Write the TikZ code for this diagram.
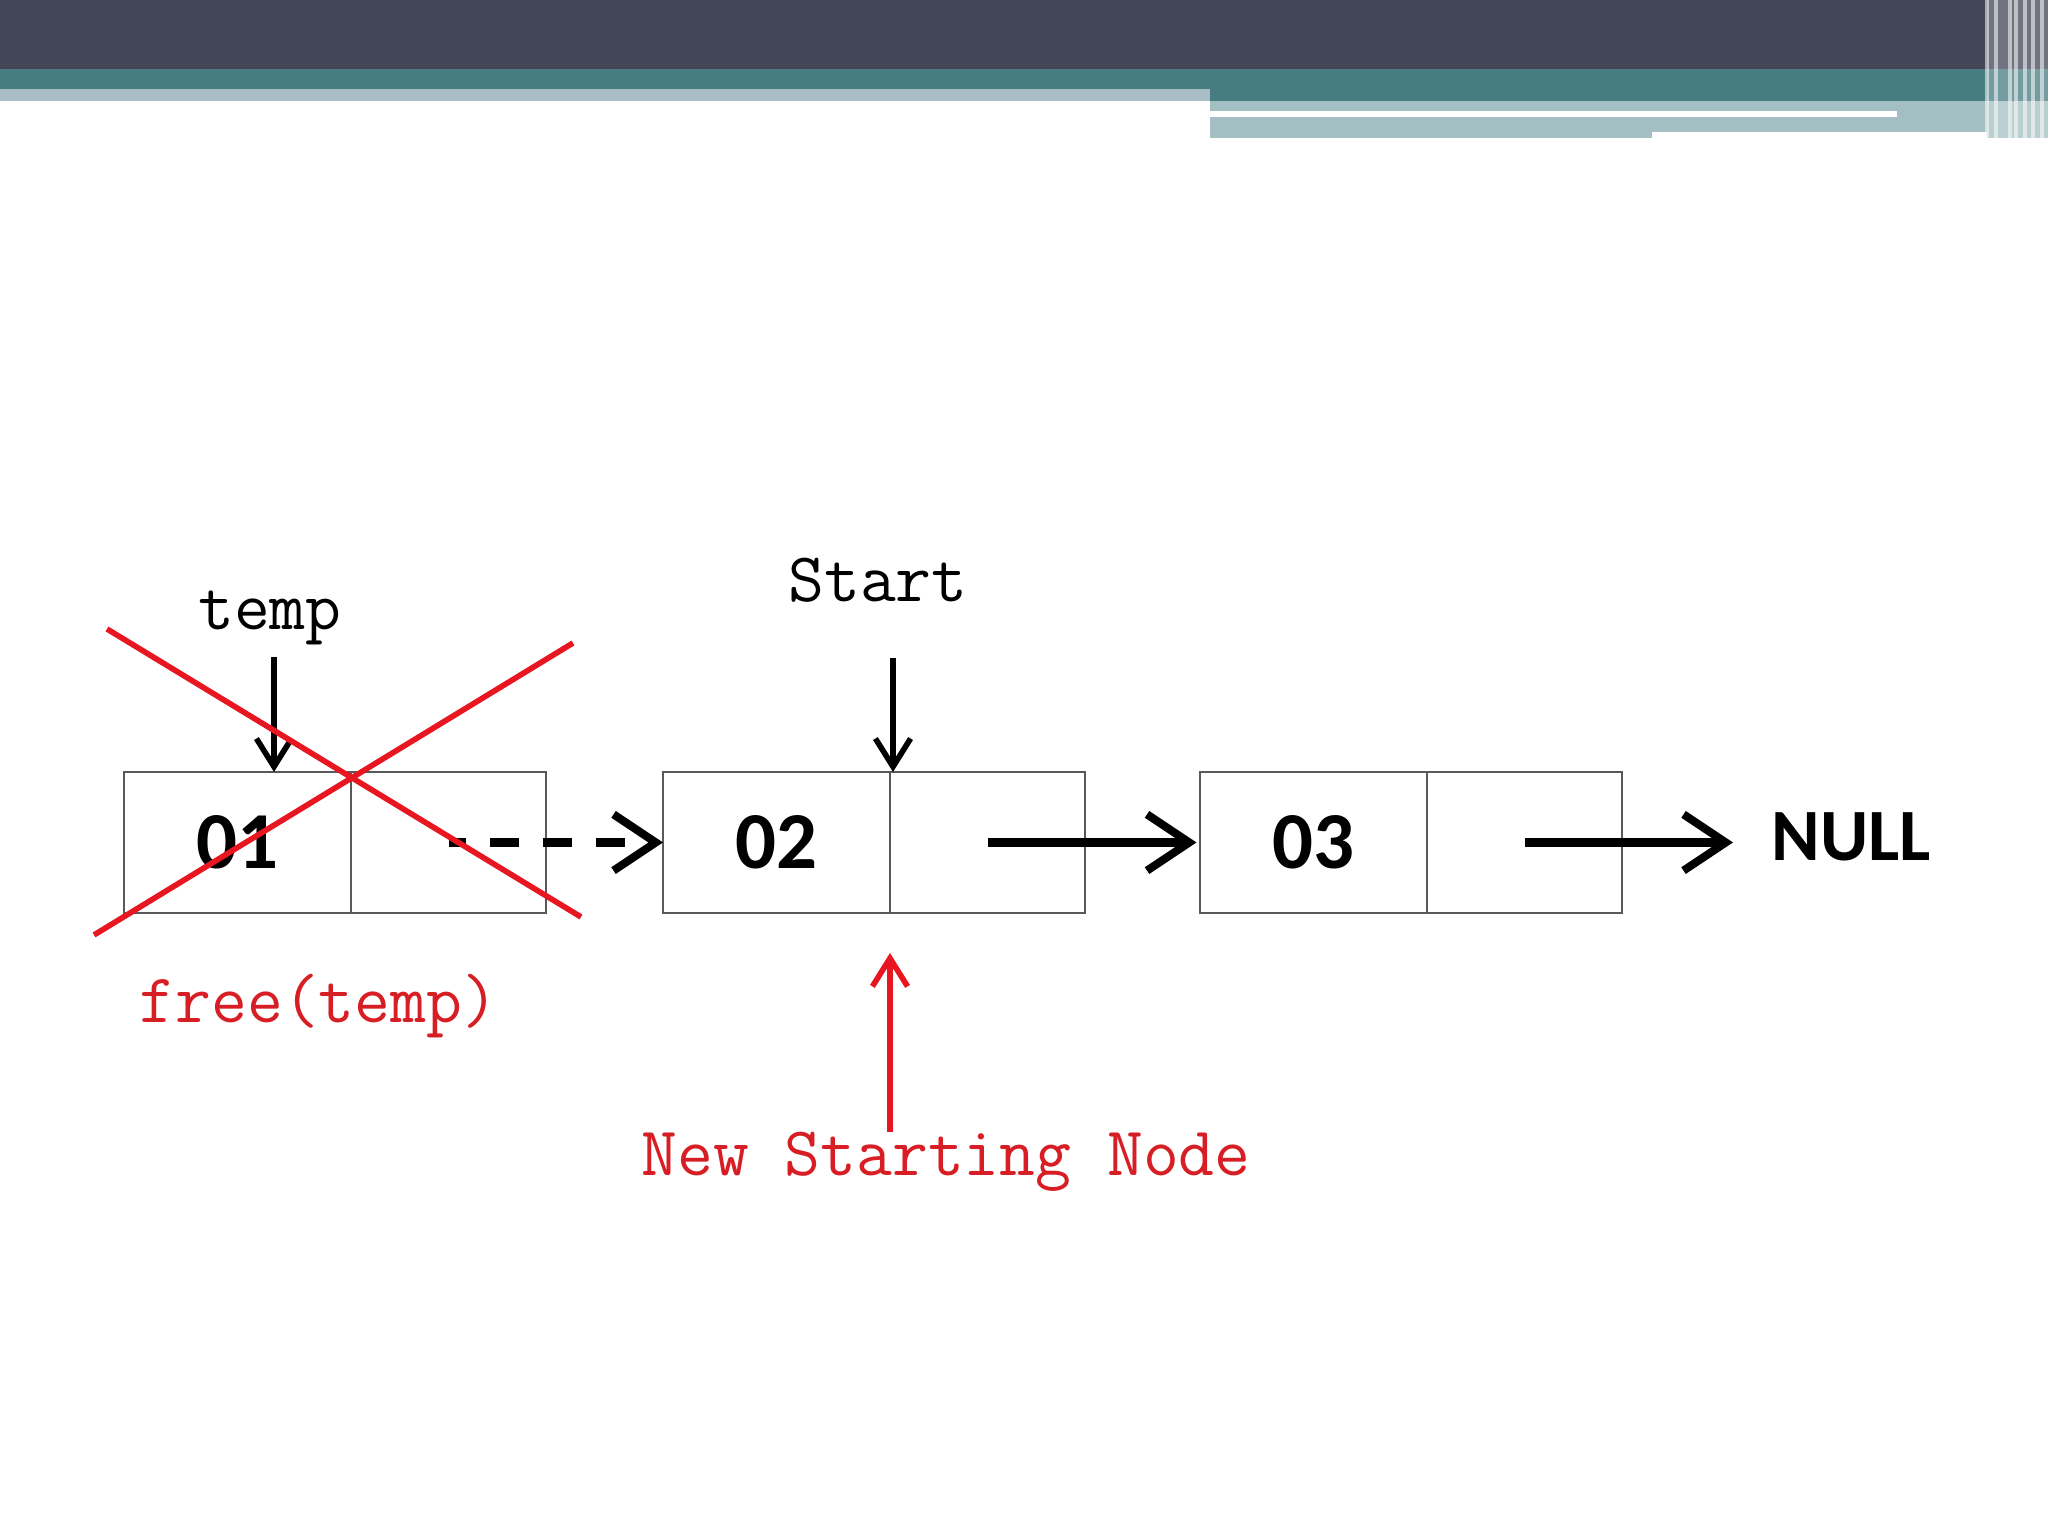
\documentclass[tikz,border=0pt]{standalone}
\usepackage{fontspec}
\usetikzlibrary{arrows.meta,calc,positioning}
\newfontfamily\cellfont{Carlito}
\definecolor{hdrdark}{RGB}{66,70,86}
\definecolor{hdrteal}{RGB}{70,124,130}
\definecolor{hdrlight}{RGB}{164,191,195}
\definecolor{hdrgray}{RGB}{168,189,198}
\definecolor{xred}{RGB}{232,22,32}
\definecolor{txtred}{RGB}{214,30,36}
\begin{document}
\begin{tikzpicture}[x=1cm, y=1cm,
    cell/.style={draw=black!65, line width=0.8pt, minimum height=1.41cm, inner sep=0pt, outer sep=0pt,
                 font=\cellfont\bfseries\fontsize{23}{23}\selectfont},
    datacell/.style={cell, minimum width=2.27cm},
    ptrcell/.style={cell, minimum width=1.95cm},
    code/.style={font=\ttfamily\fontsize{19.8}{19.8}\selectfont},
    link/.style={line width=2.3pt, -{Straight Barb[length=12pt, width=16pt, line width=2.3pt]}},
    ptr/.style={line width=1.6pt, -{Straight Barb[length=8pt, width=10pt, line width=1.6pt]}}]
    % 0. 画布与页眉条
    \useasboundingbox (0,0) rectangle (20.48,15.36);
    \fill[white] (0,0) rectangle (20.48,15.36);
    \fill[hdrdark] (0,14.67) rectangle (20.48,15.36);
    \fill[hdrteal] (0,14.47) rectangle (12.10,14.67);
    \fill[hdrgray] (0,14.35) rectangle (12.10,14.47);
    \fill[hdrteal] (12.10,14.35) rectangle (20.48,14.67);
    \fill[hdrlight] (12.10,13.98) rectangle (20.48,14.35);
    \fill[white] (12.10,14.19) rectangle (18.97,14.25);
    \fill[white] (16.52,13.98) rectangle (19.87,14.04);
    % 右端竖条纹
    \fill[white, opacity=0.25] (19.87,13.98) rectangle (20.48,15.36);
    \foreach \sx in {19.87, 19.96, 20.10, 20.16, 20.25, 20.33, 20.42}
        \draw[white, opacity=0.55, line width=1.2pt] (\sx,13.98) -- (\sx,15.36);

    % 1. 链表结点
    \node[datacell] (n1d) at (2.375, 6.935) {01};
    \node[ptrcell, right=0pt of n1d] (n1p) {};
    \node[datacell, right=1.17cm of n1p] (n2d) {02};
    \node[ptrcell, right=0pt of n2d] (n2p) {};
    \node[datacell, right=1.15cm of n2p] (n3d) {03};
    \node[ptrcell, right=0pt of n3d] (n3p) {};
    \node[font=\cellfont\bfseries\fontsize{21}{21}\selectfont, right=1.37cm of n3p, yshift=0.06cm] (null) {NULL};

    % 2. 结点之间的指针
    \draw[link, line width=2.6pt, dash pattern=on 0.29cm off 0.24cm, dash phase=0.115cm] (n1p.center) -- (n1p.center -| n2d.west);
    \draw[link, shorten >=1pt] (n2p.center) -- (n2p.center -| n3d.west);
    \draw[link, shorten >=0.26cm] (n3p.center) -- (n3p.center -| null.west);

    % 3. 指针变量 temp / Start
    \node[code] (temp) at (2.70, 9.18) {temp};
    \coordinate (tempptr) at (2.74, 8.79);
    \draw[ptr] (tempptr) -- (tempptr |- n1d.north);
    \node[code] (start) at (8.78, 9.56) {Start};
    \coordinate (startptr) at ($(n2p.north west)+(0.03,1.14)$);
    \draw[ptr] (startptr) -- (startptr |- n2p.north);

    % 4. 释放旧结点 (红色叉)
    \draw[xred, line width=1.6pt] (1.07, 9.07) -- (5.81, 6.19);
    \draw[xred, line width=1.6pt] (0.94, 6.01) -- (5.73, 8.93);
    \node[code, text=txtred] (free) at (3.19, 5.30) {free(temp)};

    % 5. 新的起始结点
    \node[code, text=txtred, inner ysep=0pt] (newstart) at (9.46, 3.74) {New Starting Node};
    \draw[xred, line width=1.6pt, -{Straight Barb[length=8pt, width=10pt, line width=1.6pt]}, shorten >=0.4cm]
        (newstart.north -| n2p.south west) -- (n2p.south west);
\end{tikzpicture}
\end{document}
